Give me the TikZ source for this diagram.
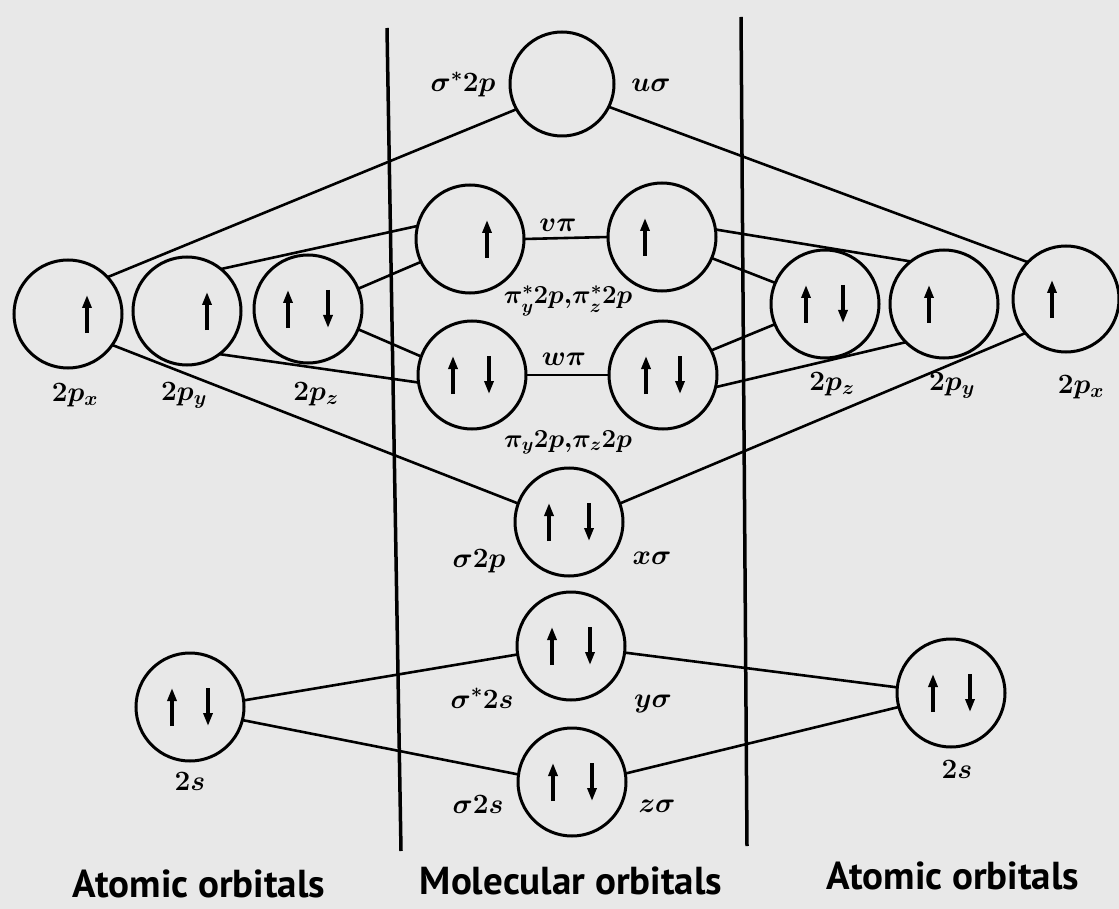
\RequirePackage{fix-cm}
\documentclass[tikz,border=0pt]{standalone}
\usepackage{fontspec}
\newfontfamily\capfont{PT Sans}
\DeclareMathSizes{28}{28}{20}{15}
\DeclareMathSizes{26}{26}{18.5}{14}
\usetikzlibrary{arrows.meta,calc}
\newcommand\spinup[2]{\draw[spin] ($(#1)+(#2,19)$) -- ++(0,-38);}
\newcommand\spindn[2]{\draw[spin] ($(#1)+(#2,-19)$) -- ++(0,38);}
\begin{document}
\begin{tikzpicture}[x=1pt,y=-1pt,
  orb/.style={circle,draw,line width=3pt,minimum size=108pt,inner sep=0pt,outer sep=0pt},
  conn/.style={line width=2.6pt},
  divider/.style={line width=3.5pt},
  spin/.style={line width=3.2pt,-{Triangle[length=13pt,width=9pt]}},
  lbl/.style={anchor=base,font=\fontsize{28}{34}\selectfont\boldmath,inner sep=0pt},
  smalllbl/.style={lbl,font=\fontsize{26}{31}\selectfont\boldmath},
  captext/.style={anchor=base,font=\capfont\bfseries\fontsize{39}{45}\selectfont,inner sep=0pt}]
\definecolor{bg}{RGB}{232,232,232}
\fill[bg] (0,0) rectangle (1119,909);
\useasboundingbox (0,0) rectangle (1119,909);

% dividers
\coordinate (d1t) at (387,28);
\coordinate (d1b) at (401,851);
\coordinate (d2t) at (741,17);
\coordinate (d2b) at (747,846);
\draw[divider] (d1t) -- (d1b);
\draw[divider] (d2t) -- (d2b);

% atomic orbitals left
\node[orb] (lpx) at (68,314) {};
\node[orb] (lpy) at (187,311) {};
\node[orb] (lpz) at (308,309) {};
\node[orb] (ls) at (190,707) {};
% atomic orbitals right
\node[orb] (rpz) at (825,304) {};
\node[orb] (rpy) at (944,304) {};
\node[orb,minimum size=106pt] (rpx) at (1066,299) {};
\node[orb] (rs) at (951,693) {};
% molecular orbitals
\node[orb,minimum size=104pt] (ss) at (562,84) {};
\node[orb] (vl) at (470,239) {};
\node[orb] (vr) at (662,237) {};
\node[orb] (wl) at (472,375) {};
\node[orb] (wr) at (663,375) {};
\node[orb] (sp) at (569,522) {};
\node[orb] (sss) at (571,646) {};
\node[orb] (s2) at (572,782) {};

% connectors
\draw[conn] (lpx.43) -- (ss.209);
\draw[conn] (lpx.-35) -- (sp.160);
\draw[conn] (lpy.51) -- (vl.166);
\draw[conn] (lpy.-53) -- (wl.188);
\draw[conn] (lpz.22) -- (vl.205);
\draw[conn] (lpz.-22) -- (wl.160);
\draw[conn] (vl.0) -- (vr.180);
\draw[conn] (wl.0) -- (wr.180);
\draw[conn] (vr.8) -- (rpy.128);
\draw[conn] (vr.337) -- (rpz.157);
\draw[conn] (wr.27) -- (rpz.202);
\draw[conn] (wr.-13) -- (rpy.225);
\draw[conn] (ss.334) -- (rpx.136);
\draw[conn] (sp.20) -- (rpx.220);
\draw[conn] (ls.7) -- (sss.189);
\draw[conn] (ls.-14) -- (s2.172);
\draw[conn] (sss.353) -- (rs.174);
\draw[conn] (s2.9) -- (rs.195);

% spins
\spinup{lpx}{19}
\spinup{lpy}{20}
\spinup{lpz}{-20}\spindn{lpz}{20}
\spinup{ls}{-18}\spindn{ls}{18}
\spinup{rpz}{-19}\spindn{rpz}{18}
\spinup{rpy}{-15}
\spinup{rpx}{-14}
\spinup{rs}{-18}\spindn{rs}{19}
\spinup{vl}{17}
\spinup{vr}{-17}
\spinup{wl}{-19}\spindn{wl}{17}
\spinup{wr}{-17}\spindn{wr}{17}
\spinup{sp}{-20}\spindn{sp}{20}
\spinup{sss}{-19}\spindn{sss}{19}
\spinup{s2}{-19}\spindn{s2}{20}

% labels
\node[lbl] (t1) at (463,92) {$\sigma^{*}2p$};
\node[lbl] (t2) at (651,92) {$u\sigma$};
\node[lbl] (t3) at (558,232) {$v\pi$};
\node[smalllbl] (t4) at (568,304) {$\pi^{*}_{y}2p{,}\pi^{*}_{z}2p$};
\node[lbl] (t5) at (564,365) {$w\pi$};
\node[smalllbl] (t6) at (568,447) {$\pi_{y}2p{,}\pi_{z}2p$};
\node[lbl] (t7) at (479,567) {$\sigma2p$};
\node[lbl] (t8) at (652,564) {$x\sigma$};
\node[lbl] (t9) at (482,708) {$\sigma^{*}2s$};
\node[lbl] (t10) at (653,707) {$y\sigma$};
\node[lbl] (t11) at (478,813) {$\sigma2s$};
\node[lbl] (t12) at (657,812) {$z\sigma$};
\node[lbl] (t13) at (75,401) {$2p_{x}$};
\node[lbl] (t14) at (184,400) {$2p_{y}$};
\node[lbl] (t15) at (316,400) {$2p_{z}$};
\node[lbl] (t16) at (832,390) {$2p_{z}$};
\node[lbl] (t17) at (952,390) {$2p_{y}$};
\node[lbl] (t18) at (1081,393) {$2p_{x}$};
\node[lbl] (t19) at (190,790) {$2s$};
\node[lbl] (t20) at (957,778) {$2s$};

\node[captext] (c1) at (199,897) {Atomic orbitals};
\node[captext] (c2) at (571,894) {Molecular orbitals};
\node[captext] (c3) at (953,889) {Atomic orbitals};
\end{tikzpicture}
\end{document}
